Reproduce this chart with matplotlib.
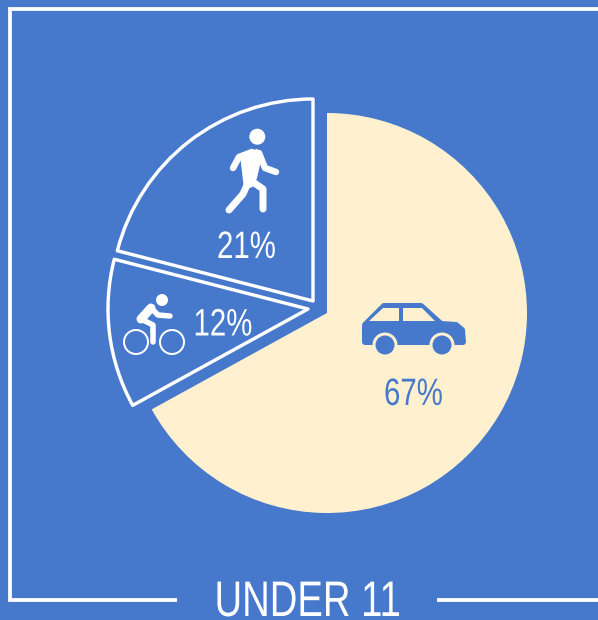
#!/usr/bin/env python3
"""Under 11 travel mode pie, drawn in a 598x620 pixel canvas."""
import matplotlib
matplotlib.use("Agg")
import matplotlib.pyplot as plt
from matplotlib.patches import Circle, Polygon
from matplotlib.patheffects import AbstractPathEffect
from matplotlib.transforms import Affine2D

modes = ["car", "bike", "walk"]
shares = [67, 12, 21]
labels = ["67%", "12%", "21%"]
title = "UNDER 11"

BLUE = "#4678CC"
CREAM = "#FFF1CF"
WHITE = "#FFFFFF"
W, H = 598, 620

plt.rcParams["font.family"] = ["Liberation Sans", "DejaVu Sans"]


class Narrow(AbstractPathEffect):
    # no condensed face installed, squeeze the glyphs sideways from the text origin
    def __init__(self, sx, grow=0.0):
        self.sx = sx
        self.grow = grow

    def draw_path(self, renderer, gc, tpath, affine, rgbFace=None):
        gc0 = renderer.new_gc()
        gc0.copy_properties(gc)
        gc0.set_foreground(rgbFace)
        gc0.set_linewidth(self.grow)
        renderer.draw_path(gc0, tpath, Affine2D().scale(self.sx, 1) + affine, rgbFace)
        gc0.restore()


def Y(y):
    return H - y


def px(v):
    return v * 72 / 100


def stroke(ax, pts, w, color=WHITE):
    ax.plot([p[0] for p in pts], [Y(p[1]) for p in pts], color=color, lw=px(w),
            solid_capstyle="round", solid_joinstyle="round", zorder=5)


def dot(ax, x, y, r, fc, ec="none", lw=0):
    ax.add_patch(Circle((x, Y(y)), r, fc=fc, ec=ec, lw=px(lw), zorder=6))


def poly(ax, pts, fc, lw=0):
    ax.add_patch(Polygon([(x, Y(y)) for x, y in pts], closed=True, fc=fc, ec=fc, lw=px(lw),
                         joinstyle="round", zorder=5))


fig = plt.figure(figsize=(W / 100, H / 100), dpi=100, facecolor=BLUE)
ax = fig.add_axes([0, 0, 1, 1])

wedges, _ = ax.pie(shares, startangle=90, counterclock=False, radius=200, center=(327, Y(313)))
wedges[0].set(facecolor=CREAM, edgecolor="none")
for w, c in zip(wedges[1:], [(308, 309), (313, 301)]):
    w.set_center((c[0], Y(c[1])))
    w.set(facecolor=BLUE, edgecolor=WHITE, linewidth=px(3.4), joinstyle="round")
wedges[2].set_radius(202)

ax.set_xlim(0, W)
ax.set_ylim(0, H)
ax.set_aspect("equal")
ax.axis("off")

# frame, open on the right with a gap for the title
stroke_kw = dict(color=WHITE, lw=px(3.8), solid_capstyle="butt", solid_joinstyle="miter")
ax.plot([W, 10, 10, 177], [Y(9), Y(9), Y(600), Y(600)], **stroke_kw)
ax.plot([437, W], [Y(600), Y(600)], **stroke_kw)

# walker
dot(ax, 257.3, 136.7, 8, WHITE)
poly(ax, [(241, 155), (257, 150), (261, 156), (256, 178), (252, 186), (245, 189)], WHITE, 2)
stroke(ax, [(252, 152), (239, 157), (233, 168)], 6.5)
stroke(ax, [(259, 153), (265, 168), (276, 172)], 6.5)
stroke(ax, [(247, 185), (243, 194), (229, 210)], 7)
stroke(ax, [(250, 180), (263, 189), (263, 209)], 7)

# cyclist
dot(ax, 162, 300, 6, WHITE)
dot(ax, 136, 342, 12, "none", WHITE, 2)
dot(ax, 172, 342, 12, "none", WHITE, 2)
stroke(ax, [(170, 316), (158, 315), (151, 308)], 5.5)
stroke(ax, [(151, 308), (141, 319)], 9)
stroke(ax, [(141, 319), (153, 325), (153, 342)], 5.5)

# car
poly(ax, [(365, 342), (365, 325), (384, 306), (421, 306), (441, 324), (456, 325),
          (462, 330), (463, 342)], BLUE, 6)
poly(ax, [(369, 321), (383, 308), (399, 308), (399, 321)], CREAM)
poly(ax, [(403, 308), (422, 308), (435, 321), (403, 321)], CREAM)
for cx in (385, 442):
    dot(ax, cx, 345, 12.5, CREAM)
    dot(ax, cx, 345, 9.5, BLUE)

# value labels, anchored at left edge and baseline
for pos, txt, c in zip([(384, 405), (193.5, 335.5), (217, 258)], labels, [BLUE, WHITE, WHITE]):
    ax.text(pos[0], Y(pos[1]), txt, color=c, fontsize=27.5, ha="left", va="baseline",
            zorder=7, path_effects=[Narrow(0.77)])
ax.text(214.5, Y(616), title, color=WHITE, fontsize=36, ha="left", va="baseline",
        zorder=7, path_effects=[Narrow(0.765)])

fig.savefig("out.png", dpi=100, facecolor=BLUE)
